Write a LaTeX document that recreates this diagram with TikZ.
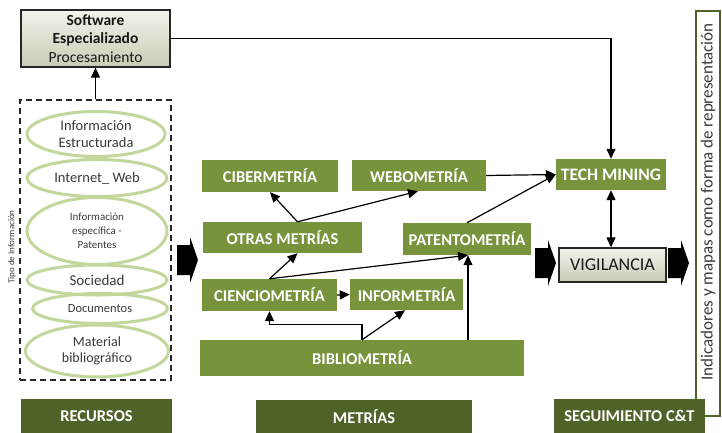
\documentclass[tikz,border=0pt]{standalone}
\usepackage{fontspec}
\setmainfont{Carlito}
\usetikzlibrary{arrows.meta,shapes.geometric,calc}
\definecolor{gr}{HTML}{77933C}
\definecolor{dgr}{HTML}{4F6228}
\definecolor{egr}{HTML}{C3D69B}
\definecolor{txt}{HTML}{3A3A3A}
\definecolor{light}{HTML}{F2F3EA}
\definecolor{lightb}{HTML}{C9CCB6}
\begin{document}
\begin{tikzpicture}[x=1pt,y=-1pt,
  gbox/.style={fill=gr, text=white, font=\bfseries\fontsize{16.5}{18}\selectfont, inner sep=0pt},
  hdr/.style={fill=dgr, text=white, font=\bfseries\fontsize{16.5}{18}\selectfont, inner sep=0pt},
  gradbox/.style={draw=black!85, line width=1.3pt, top color=light, bottom color=lightb, text=black!90, inner sep=0pt},
  ell/.style={ellipse, draw=egr, line width=3pt, text=txt, inner sep=0pt, align=center},
  arr/.style={line width=1.2pt, -{Triangle[length=10pt,width=9pt]}},
  darr/.style={line width=1.2pt, {Triangle[length=10pt,width=9pt]}-{Triangle[length=10pt,width=9pt]}},
  blockarr/.pic={\fill[black] (0,-15) -- (13,-15) -- (13,-23) -- (21,0) -- (13,23) -- (13,15) -- (0,15) -- cycle;}
]
\useasboundingbox (0,0) rectangle (722,433);

% Software box
\node[gradbox, minimum width=149, minimum height=57, align=center, font=\fontsize{15.5}{18.5}\selectfont] (soft) at (95.5,38.5)
  {\textbf{Software}\\\textbf{Especializado}\\Procesamiento};

% dashed resources box
\node[draw=black!85, dash pattern=on 6pt off 4pt, line width=1.3pt, minimum width=151, minimum height=280, inner sep=0pt] (dash) at (95.5,240) {};
\node[rotate=90, text=txt, font=\fontsize{9}{10}\selectfont] (tipo) at (12,247) {Tipo de Información};

% ellipses
\node[ell, minimum width=138, minimum height=45, font=\fontsize{14.5}{17}\selectfont] (e1) at (96,134) {Información\\Estructurada};
\node[ell, minimum width=140, minimum height=37, font=\fontsize{14.5}{16}\selectfont] (e2) at (97,178) {Internet\_ Web};
\node[ell, minimum width=140, minimum height=67, font=\fontsize{11}{14}\selectfont] (e3) at (97,231) {Información\\específica -\\Patentes};
\node[ell, minimum width=140, minimum height=30, font=\fontsize{15}{16}\selectfont] (e4) at (97,280) {Sociedad};
\node[ell, minimum width=135, minimum height=30, font=\fontsize{12.5}{14}\selectfont] (e5) at (100,308.5) {Documentos};
\node[ell, minimum width=143, minimum height=52, font=\fontsize{14}{16.5}\selectfont] (e6) at (97,351) {Material\\bibliográfico};

% metrics boxes
\node[gbox, minimum width=136, minimum height=32] (ciber) at (270,176) {CIBERMETRÍA};
\node[gbox, minimum width=134, minimum height=31] (webo) at (419,175.5) {WEBOMETRÍA};
\node[gbox, minimum width=159, minimum height=31] (otras) at (282.5,237.5) {OTRAS METRÍAS};
\node[gbox, minimum width=128, minimum height=32] (paten) at (467,239) {PATENTOMETRÍA};
\node[gbox, minimum width=135, minimum height=32] (cienc) at (269.5,295) {CIENCIOMETRÍA};
\node[gbox, minimum width=113, minimum height=31] (infor) at (406.5,294.5) {INFORMETRÍA};
\node[gbox, minimum width=324, minimum height=36] (biblio) at (362,358) {BIBLIOMETRÍA};

% tracking
\node[gbox, minimum width=110, minimum height=31, font=\bfseries\fontsize{17.5}{18}\selectfont] (tech) at (611,174.5) {TECH MINING};
\node[gradbox, minimum width=107, minimum height=34, font=\fontsize{18}{20}\selectfont] (vig) at (612.5,265) {VIGILANCIA};

% right box
\node[draw=dgr, line width=2.5pt, minimum width=24, minimum height=405, inner sep=0pt] (ind) at (708,213.5) {};
\node[rotate=90, text=txt, font=\fontsize{17}{19}\selectfont] (indt) at (708,202) {Indicadores y mapas como forma de representación};

% headers
\node[hdr, minimum width=151, minimum height=34] (recursos) at (96.5,416) {RECURSOS};
\node[hdr, minimum width=216, minimum height=33] (metrias) at (364,416.5) {METRÍAS};
\node[hdr, minimum width=151, minimum height=34] (segui) at (629.5,416) {SEGUIMIENTO C\&T};

% block arrows
\pic at (177,260) {blockarr};
\pic at (535,263) {blockarr};
\pic at (668,263) {blockarr};

% connectors
\draw[arr] (dash.north) -- (soft.south);
\draw[arr] (soft.east) -| (tech.north);
\draw[arr] (cienc.north) -- ([xshift=15]otras.south);
\draw[arr] (cienc.north) -- ([xshift=1]paten.south);
\draw[arr] ([xshift=15]otras.north) -- (ciber.south);
\draw[arr] ([xshift=15]otras.north) -- ([xshift=-1]webo.south);
\draw[arr] (webo.east) -- (tech.west);
\draw[arr] (paten.north) -- (tech.west);
\draw[darr] (tech.south) -- (tech.south |- vig.north);
\draw[arr] (cienc.east) -- (infor.west);
\draw[arr] (biblio.north) -- ++(0,-15) -| (cienc.south);
\draw[arr] (biblio.north) -- ([xshift=-1.5]infor.south);
\draw[arr] ([xshift=1]biblio.north -| paten.south) -- ([xshift=1]paten.south);
\end{tikzpicture}
\end{document}
